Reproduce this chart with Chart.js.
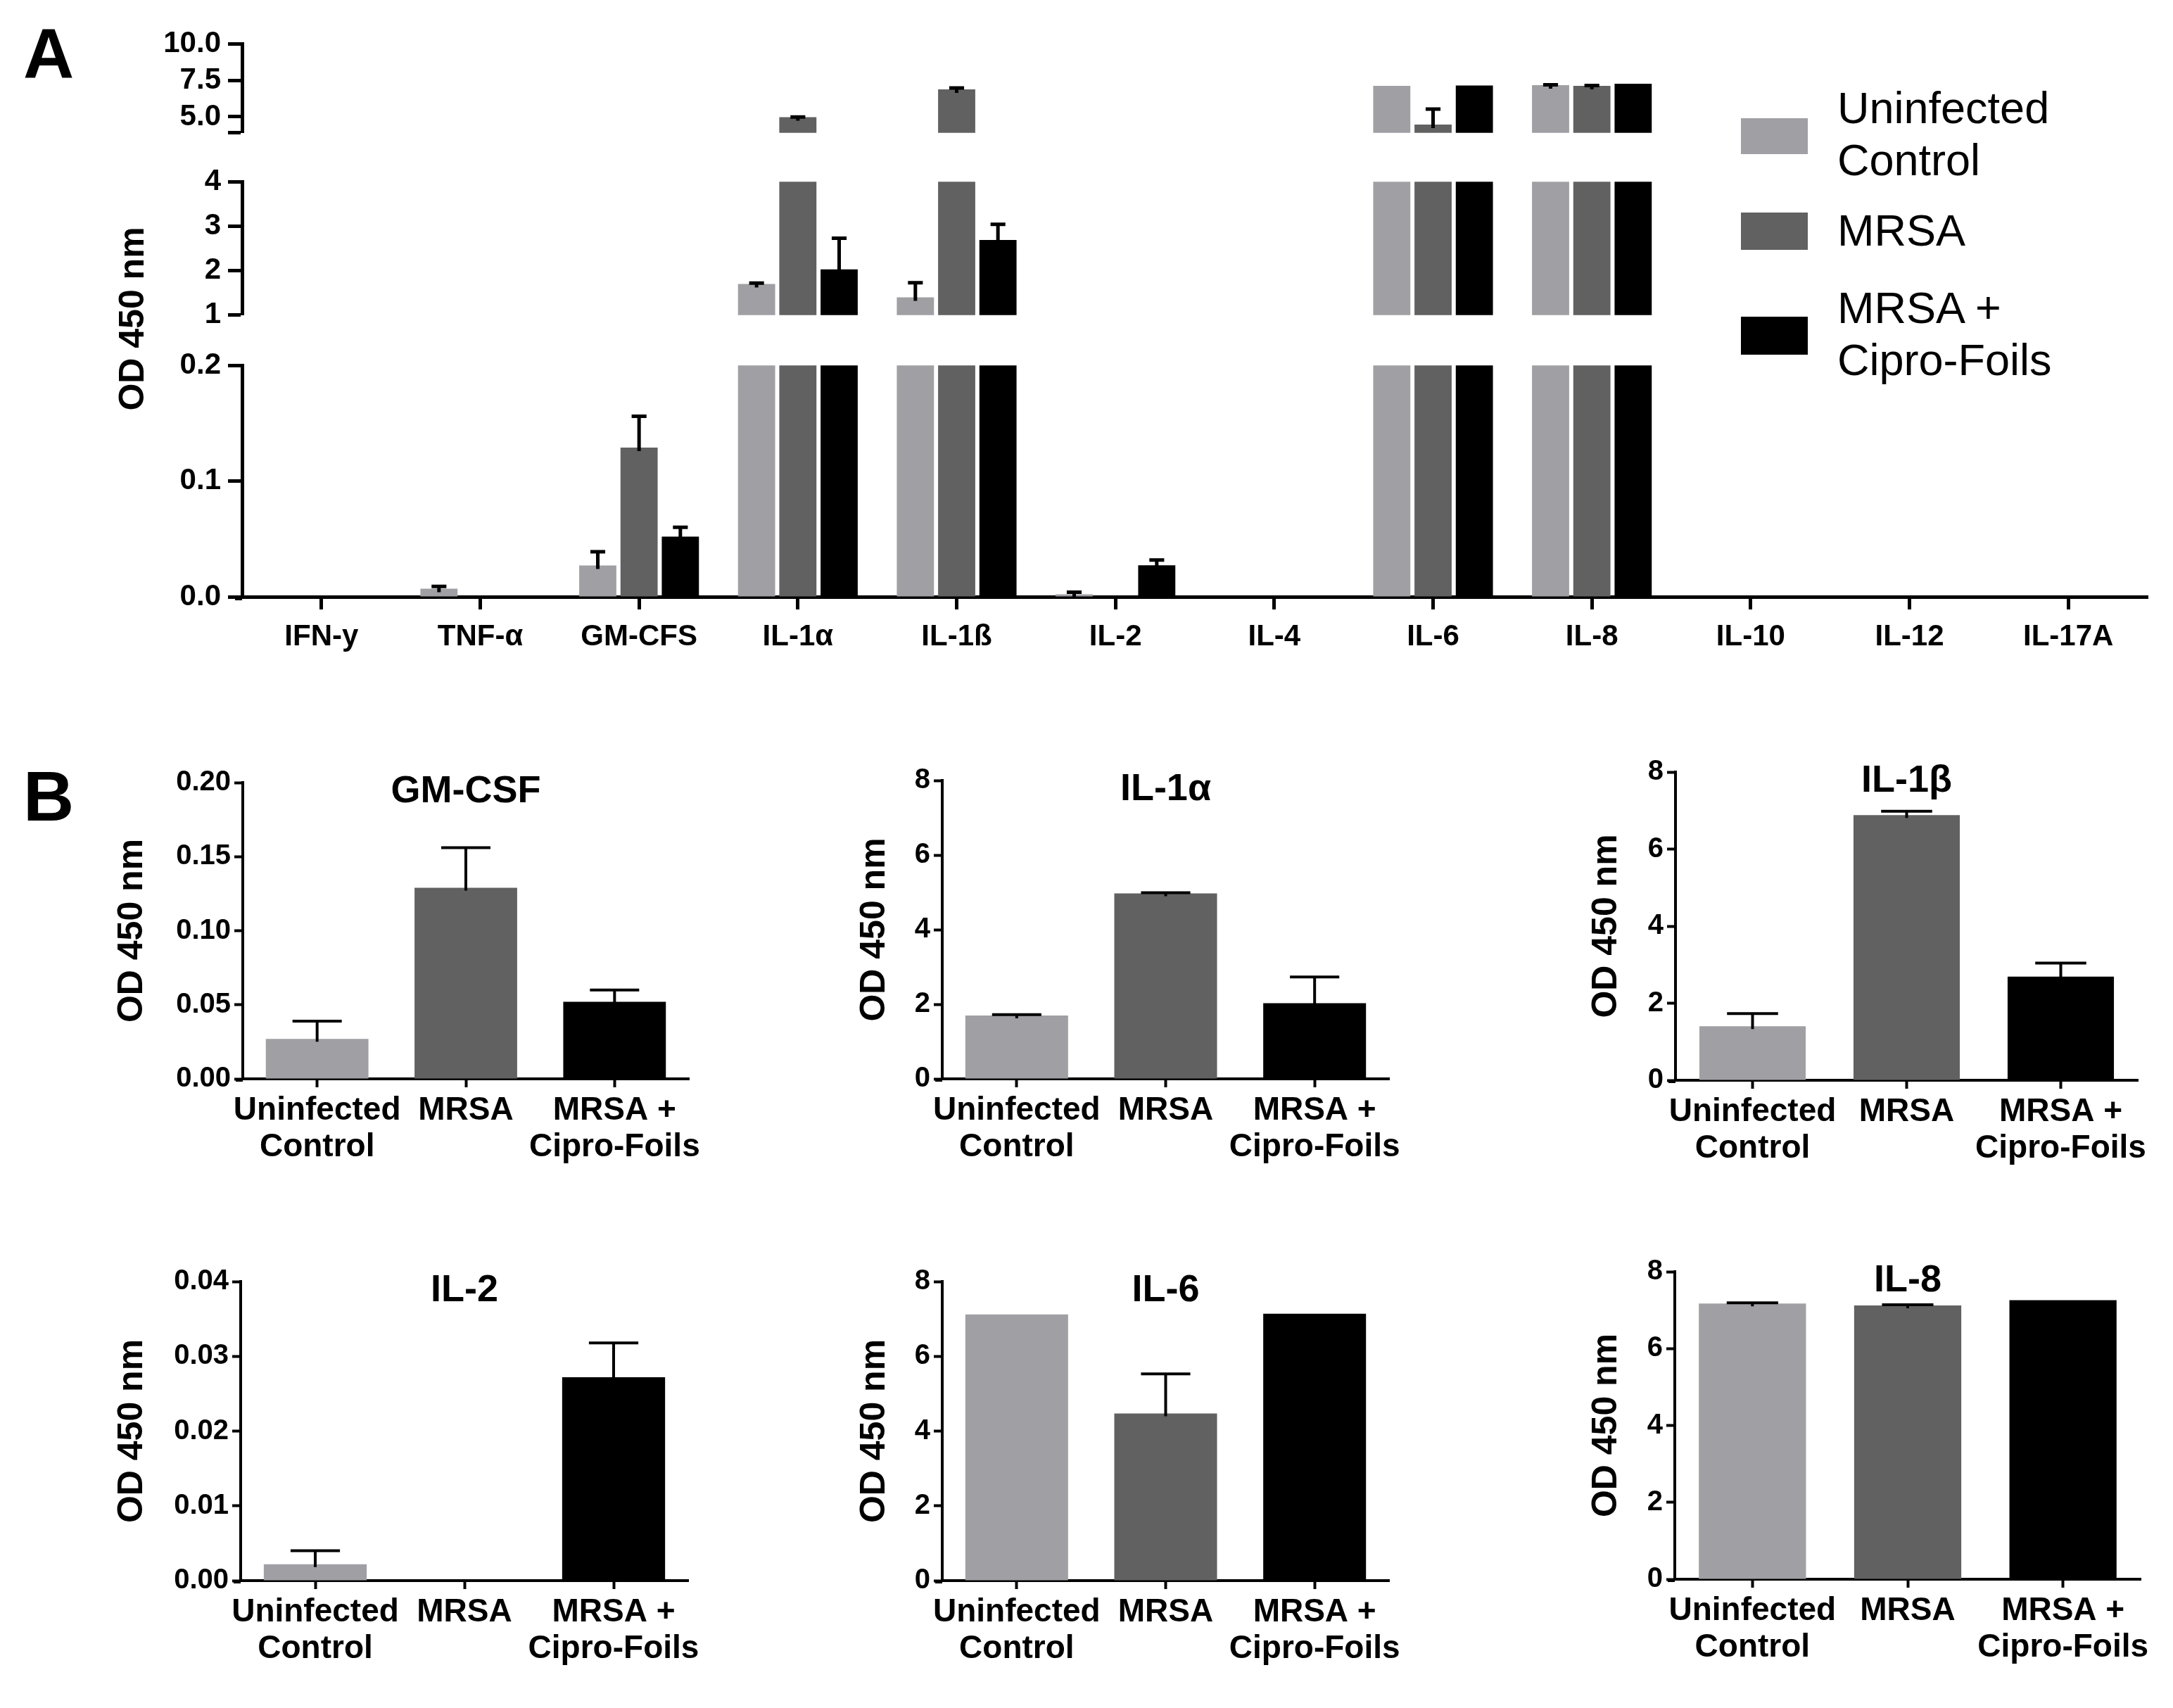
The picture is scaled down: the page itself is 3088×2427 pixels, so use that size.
<!DOCTYPE html>
<html>
<head>
<meta charset="utf-8">
<title>Cytokines</title>
<script src="https://cdn.jsdelivr.net/npm/chart.js@4.4.1/dist/chart.umd.min.js"></script>
<style>
  body { margin: 0; background: #fff; }
  #page { position: relative; width: 3088px; height: 2427px; overflow: hidden; background: #fff;
          font-family: 'Liberation Sans', Arial, sans-serif; color: #000; }
  .lbl { position: absolute; font-weight: bold; line-height: 1; }
  .ytitle { position: absolute; font-weight: bold; font-size: 50px; white-space: nowrap;
            transform: translate(-50%, -50%) rotate(-90deg); }
  .sw { position: absolute; }
  .lt { position: absolute; font-size: 63px; line-height: 74px; white-space: nowrap; }
</style>
</head>
<body>
<div id="page">
  <div class="lbl" style="left:33px;top:26px;font-size:100px">A</div>
  <div class="lbl" style="left:33px;top:1081px;font-size:100px">B</div>
  <div class="ytitle" style="left:187px;top:453px">OD 450 nm</div>

  <div class="sw" style="left:2474px;top:168px;width:95px;height:51px;background:#a09fa4"></div>
  <div class="lt" style="left:2611px;top:116px">Uninfected<br>Control</div>
  <div class="sw" style="left:2474px;top:302px;width:95px;height:53px;background:#616161"></div>
  <div class="lt" style="left:2611px;top:290px">MRSA</div>
  <div class="sw" style="left:2474px;top:450px;width:95px;height:54px;background:#000"></div>
  <div class="lt" style="left:2611px;top:400px">MRSA +<br>Cipro-Foils</div>
</div>
<script>
// ---- data ----
const cytokines = ['IFN-y', 'TNF-α', 'GM-CFS', 'IL-1α', 'IL-1ß', 'IL-2', 'IL-4', 'IL-6', 'IL-8', 'IL-10', 'IL-12', 'IL-17A'];
const uninfected    = [0, 0.007, 0.027, 1.70, 1.40, 0.0022, 0, 7.12, 7.17, 0, 0, 0];
const mrsa          = [0, 0,     0.129, 4.97, 6.88, 0,      0, 4.47, 7.12, 0, 0, 0];
const cipro         = [0, 0,     0.052, 2.03, 2.69, 0.0272, 0, 7.14, 7.26, 0, 0, 0];
const uninfectedErr = [0, 0.002, 0.012, 0.02, 0.33, 0.0018, 0, 0,    0.02, 0, 0, 0];
const mrsaErr       = [0, 0,     0.027, 0.02, 0.10, 0,      0, 1.06, 0.02, 0, 0, 0];
const ciproErr      = [0, 0,     0.008, 0.70, 0.35, 0.0046, 0, 0,    0,    0, 0, 0];

const groupNames = ['Uninfected Control', 'MRSA', 'MRSA + Cipro-Foils'];
const groupTicks = [['Uninfected', 'Control'], 'MRSA', ['MRSA +', 'Cipro-Foils']];

// panel A: broken y axis, three segments (bottom, middle, top)
const lowTicks = [0, 0.1, 0.2];
const midTicks = [1, 2, 3, 4];
const topTicks = [3.9, 5, 7.5, 10];   // 3.9 is the unlabelled segment end

// panel B: one small chart per cytokine
const panelBTitles = ['GM-CSF', 'IL-1α', 'IL-1β', 'IL-2', 'IL-6', 'IL-8'];
const panelBIndex  = [2, 3, 4, 5, 7, 8];
const panelBMax    = [0.2, 8, 8, 0.04, 8, 8];
const panelBStep   = [0.05, 2, 2, 0.01, 2, 2];

// ---- styling ----
const colors = ['#a09fa4', '#616161', '#000000'];
Chart.defaults.font.family = "'Liberation Sans', Arial, sans-serif";
Chart.defaults.font.weight = 'bold';
Chart.defaults.color = '#000';

// draws upper error whiskers for bars whose top lies inside this chart's y range
const errorBars = {
  id: 'errorBars',
  afterDatasetsDraw(chart, args, opts) {
    const {ctx, chartArea: a} = chart;
    const y = chart.scales.y;
    ctx.save();
    ctx.beginPath();
    ctx.rect(a.left, a.top - 8, a.right - a.left, a.bottom - a.top + 8);
    ctx.clip();
    ctx.strokeStyle = '#000';
    ctx.lineWidth = opts.width;
    chart.data.datasets.forEach((ds, i) => {
      const meta = chart.getDatasetMeta(i);
      ds.data.forEach((v, j) => {
        const e = ds.errors[j];
        if (!e || v < y.min || v > y.max) return;
        const bar = meta.data[j];
        const y0 = y.getPixelForValue(v), y1 = y.getPixelForValue(v + e);
        const half = bar.width * opts.cap / 2;
        ctx.beginPath();
        ctx.moveTo(bar.x, y0 + opts.width);
        ctx.lineTo(bar.x, y1);
        ctx.moveTo(bar.x - half, y1);
        ctx.lineTo(bar.x + half, y1);
        ctx.stroke();
      });
    });
    ctx.restore();
  }
};

// short stub of the x axis line running past the y axis (GraphPad look)
const axisStub = {
  id: 'axisStub',
  afterDraw(chart, args, opts) {
    if (!opts.len) return;
    const {ctx, chartArea: a} = chart;
    ctx.save();
    ctx.fillStyle = '#000';
    ctx.fillRect(a.left - opts.len, a.bottom, opts.len, opts.width);
    ctx.restore();
  }
};

const panelTitle = {
  id: 'panelTitle',
  afterDraw(chart, args, opts) {
    if (!opts.text) return;
    const {ctx, chartArea: a} = chart;
    ctx.save();
    ctx.font = "bold 54px 'Liberation Sans', Arial, sans-serif";
    ctx.fillStyle = '#000';
    ctx.textAlign = 'center';
    ctx.textBaseline = 'middle';
    ctx.fillText(opts.text, (a.left + a.right) / 2, a.top + 13);
    ctx.restore();
  }
};

// canvas placed so that the chart area lands on L..R, T..B
function makeCanvas(L, T, R, B, W, H, pad) {
  const c = document.createElement('canvas');
  const left = L - W, top = T - pad.top;
  const w = R + pad.right - left, h = B + H + pad.bottom - top;
  c.width = w; c.height = h;
  c.style.cssText = `position:absolute;left:${left}px;top:${top}px;width:${w}px;height:${h}px`;
  document.getElementById('page').appendChild(c);
  return c;
}

// ---- panel A ----
const A = {L: 344, R: 3052, W: 140, xH: 110};
const segments = [
  {T: 57,  B: 194, min: 3.9, max: 10,  ticks: topTicks, fmt: v => v === topTicks[0] ? '' : v.toFixed(1)},
  {T: 253, B: 453, min: 1,   max: 4,   ticks: midTicks, fmt: v => v.toFixed(0)},
  {T: 514, B: 848, min: 0,   max: 0.2, ticks: lowTicks, fmt: v => v.toFixed(1)}
];
const seriesA = [uninfected, mrsa, cipro];
const errA = [uninfectedErr, mrsaErr, ciproErr];

segments.forEach((seg, si) => {
  const last = si === segments.length - 1;
  const pad = {top: 30, right: 10, bottom: last ? 0 : 30, left: 0};
  const canvas = makeCanvas(A.L, seg.T, A.R, seg.B, A.W, last ? A.xH : 0, pad);
  new Chart(canvas, {
    type: 'bar',
    data: {
      labels: cytokines,
      datasets: seriesA.map((d, i) => ({
        label: groupNames[i], data: d, errors: errA[i],
        backgroundColor: colors[i], borderWidth: 0, clip: 0,
        barPercentage: 0.9, categoryPercentage: 0.78
      }))
    },
    options: {
      responsive: false, animation: false, devicePixelRatio: 1,
      layout: {padding: pad},
      plugins: {legend: {display: false}, tooltip: {enabled: false},
                errorBars: {width: 5, cap: 0.4},
                axisStub: {len: last ? 10 : 0, width: 5}},
      scales: {
        x: last ? {
          afterFit: s => { s.height = A.xH; },
          grid: {offset: false, drawOnChartArea: false, tickLength: 18, tickWidth: 5, tickColor: '#000'},
          border: {color: '#000', width: 5},
          ticks: {font: {size: 42}, padding: 14, maxRotation: 0, autoSkip: false}
        } : {display: false},
        y: {
          min: seg.min, max: seg.max,
          afterFit: s => { s.width = A.W; },
          afterBuildTicks: s => { s.ticks = seg.ticks.map(v => ({value: v})); },
          grid: {drawOnChartArea: false, tickLength: 20, tickWidth: 5, tickColor: '#000'},
          border: {color: '#000', width: 5},
          ticks: {font: {size: 42}, padding: 10, autoSkip: false, callback: seg.fmt}
        }
      }
    },
    plugins: [errorBars, axisStub]
  });
});

// ---- panel B ----
const bLayout = [
  {L: 345,  R: 979,  T: 1112, B: 1533, W: 187},
  {L: 1339, R: 1974, T: 1109, B: 1533, W: 126},
  {L: 2381, R: 3038, T: 1097, B: 1535, W: 128},
  {L: 342,  R: 978,  T: 1821, B: 2246, W: 184},
  {L: 1339, R: 1974, T: 1821, B: 2246, W: 126},
  {L: 2380, R: 3042, T: 1807, B: 2244, W: 127}
];

panelBTitles.forEach((title, p) => {
  const k = panelBIndex[p];
  const g = bLayout[p];
  const xH = 130;
  const pad = {top: 30, right: 40, bottom: 0, left: 0};
  const dec = panelBStep[p] < 1 ? 2 : 0;
  const canvas = makeCanvas(g.L, g.T, g.R, g.B, g.W, xH, pad);
  new Chart(canvas, {
    type: 'bar',
    data: {
      labels: groupTicks,
      datasets: [{
        label: title,
        data: [uninfected[k], mrsa[k], cipro[k]],
        errors: [uninfectedErr[k], mrsaErr[k], ciproErr[k]],
        backgroundColor: colors, borderWidth: 0, clip: 0,
        barPercentage: 0.69, categoryPercentage: 1
      }]
    },
    options: {
      responsive: false, animation: false, devicePixelRatio: 1,
      layout: {padding: pad},
      plugins: {legend: {display: false}, tooltip: {enabled: false},
                errorBars: {width: 4, cap: 0.48}, panelTitle: {text: title},
                axisStub: {len: 10, width: 4}},
      scales: {
        x: {
          afterFit: s => { s.height = xH; },
          grid: {offset: false, drawOnChartArea: false, tickLength: 12, tickWidth: 4, tickColor: '#000'},
          border: {color: '#000', width: 4},
          ticks: {font: {size: 46, lineHeight: 1.13}, padding: 7, maxRotation: 0, autoSkip: false}
        },
        y: {
          min: 0, max: panelBMax[p],
          afterFit: s => { s.width = g.W; },
          grid: {drawOnChartArea: false, tickLength: 12, tickWidth: 4, tickColor: '#000'},
          border: {color: '#000', width: 4},
          ticks: {font: {size: 40}, padding: 5, stepSize: panelBStep[p], autoSkip: false,
                  callback: v => v.toFixed(dec)},
          title: {display: true, text: 'OD 450 nm', font: {size: 50, weight: 'bold'}, padding: 0}
        }
      }
    },
    plugins: [errorBars, panelTitle, axisStub]
  });
});
</script>
</body>
</html>
